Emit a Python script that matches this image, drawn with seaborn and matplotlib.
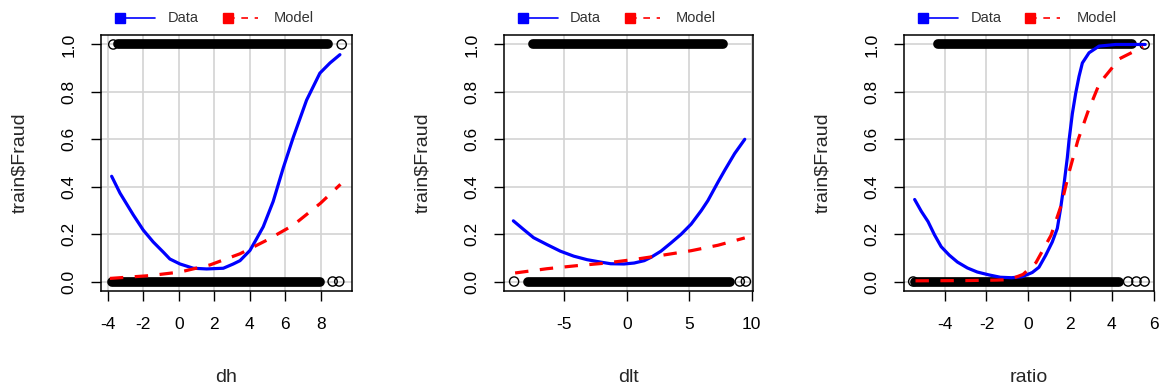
import numpy as np
import pandas as pd
import matplotlib
matplotlib.use("Agg")
import matplotlib.pyplot as plt
import seaborn as sns

sns.set_theme(style="white")
plt.rcParams['font.family'] = ['Liberation Sans', 'DejaVu Sans']
plt.rcParams['axes.unicode_minus'] = False

# ---------------- data ----------------
variables = ["dh", "dlt", "ratio"]
y_label = "train$Fraud"
legend_labels = ["Data", "Model"]

# dh panel
dh_data_x = [-3.79, -3.32, -2.57, -2.01, -1.45, -0.88, -0.51, 0.06, 0.81, 1.56, 2.5, 3.06, 3.44, 4.0, 4.38, 4.75,
             5.31, 5.88, 6.44, 7.19, 7.94, 8.51, 9.07]
dh_data_y = [0.444, 0.373, 0.281, 0.217, 0.167, 0.124, 0.095, 0.074, 0.056, 0.053, 0.056, 0.074, 0.088, 0.131, 0.181,
             0.231, 0.338, 0.48, 0.608, 0.765, 0.879, 0.922, 0.957]
dh_model_x = [-3.89, -1.63, 0.06, 1.75, 3.44, 4.94, 6.45, 7.97, 9.1]
dh_model_y = [0.013, 0.025, 0.04, 0.07, 0.117, 0.174, 0.238, 0.33, 0.41]
dh_pos_band = [-3.42, 8.41]
dh_pos_pts = [-3.7, 9.17]
dh_neg_band = [-3.75, 7.95]
dh_neg_pts = [8.66, 9.03]

# dlt panel
dlt_data_x = [-9.09, -8.28, -7.47, -6.4, -5.32, -4.25, -3.17, -2.1, -1.29, -0.22, 0.59, 1.4, 1.94, 2.74, 3.55,
              4.35, 5.16, 5.97, 6.5, 7.31, 7.85, 8.65, 9.46]
dlt_data_y = [0.256, 0.22, 0.185, 0.156, 0.128, 0.107, 0.092, 0.082, 0.075, 0.074, 0.078, 0.088, 0.102, 0.128, 0.163,
              0.199, 0.242, 0.299, 0.341, 0.419, 0.469, 0.54, 0.60]
dlt_model_x = [-8.95, -6.4, -3.98, -1.83, 0.59, 2.74, 5.16, 7.31, 9.46]
dlt_model_y = [0.036, 0.054, 0.067, 0.077, 0.093, 0.11, 0.13, 0.153, 0.184]
dlt_pos_band = [-7.5, 7.74]
dlt_pos_pts = []
dlt_neg_band = [-7.94, 8.3]
dlt_neg_pts = [-9.03, 9.06, 9.55]

# ratio panel
ratio_data_x = [-5.44, -5.12, -4.8, -4.49, -4.17, -3.78, -3.39, -2.91, -2.44, -1.89, -1.34, -0.8, -0.3, 0.19, 0.51,
                0.83, 1.15, 1.39, 1.55, 1.71, 1.87, 1.95, 2.11, 2.27, 2.43, 2.59, 2.91, 3.39, 4.19, 5.6]
ratio_data_y = [0.346, 0.296, 0.253, 0.197, 0.147, 0.111, 0.082, 0.057, 0.04, 0.028, 0.018, 0.016, 0.02, 0.038, 0.06,
                0.11, 0.167, 0.224, 0.309, 0.409, 0.523, 0.594, 0.708, 0.794, 0.865, 0.922, 0.965, 0.993, 1.0, 1.0]
ratio_model_x = [-5.4, -3.0, -1.5, -0.91, -0.25, 0.37, 1.09, 1.57, 1.97, 2.37, 2.85, 3.41, 4.37, 5.5]
ratio_model_y = [0.003, 0.004, 0.006, 0.008, 0.03, 0.08, 0.195, 0.32, 0.466, 0.594, 0.715, 0.836, 0.94, 0.99]
ratio_pos_band = [-4.33, 4.95]
ratio_pos_pts = [5.57]
ratio_neg_band = [-5.4, 4.33]
ratio_neg_pts = [-5.51, 4.78, 5.18, 5.57]

y_ticks = [0.0, 0.2, 0.4, 0.6, 0.8, 1.0]
y_tick_labels = ["0.0", "0.2", "0.4", "0.6", "0.8", "1.0"]
x_ticks = {"dh": [-4, -2, 0, 2, 4, 6, 8],
           "dlt": [-5, 0, 5, 10],
           "ratio": [-4, -2, 0, 2, 4, 6]}
x_limits = {"dh": (-4.39, 9.75), "dlt": (-9.84, 10.12), "ratio": (-5.95, 6.02)}

panels = {
    "dh": (dh_data_x, dh_data_y, dh_model_x, dh_model_y, dh_pos_band, dh_pos_pts, dh_neg_band, dh_neg_pts),
    "dlt": (dlt_data_x, dlt_data_y, dlt_model_x, dlt_model_y, dlt_pos_band, dlt_pos_pts, dlt_neg_band, dlt_neg_pts),
    "ratio": (ratio_data_x, ratio_data_y, ratio_model_x, ratio_model_y, ratio_pos_band, ratio_pos_pts, ratio_neg_band, ratio_neg_pts),
}

# ---------------- figure ----------------
fig = plt.figure(figsize=(11.65, 3.91), dpi=100)
fig.patch.set_facecolor("white")
lefts = [101 / 1165, 504 / 1165, 904 / 1165]
widths = [251 / 1165, 249 / 1165, 250 / 1165]
bottom = 1 - 291 / 391
height = 256 / 391

for i, var in enumerate(variables):
    ax = fig.add_axes([lefts[i], bottom, widths[i], height])
    ax.set_facecolor("white")
    dx, dy, mx, my, pband, ppts, nband, npts = panels[var]

    ax.set_xlim(*x_limits[var])
    ax.set_ylim(-0.04, 1.04)
    ax.set_xticks(x_ticks[var])
    ax.set_yticks(y_ticks)
    ax.set_yticklabels(y_tick_labels, rotation=90, va="center")
    ax.grid(True, color="#d3d3d3", lw=1.2)
    ax.set_axisbelow(True)

    # observations (0/1)
    ax.plot(pband, [1.0] * len(pband), color="black", lw=7.0, solid_capstyle="round", zorder=3)
    ax.plot(nband, [0.0] * len(nband), color="black", lw=7.0, solid_capstyle="round", zorder=3)
    if ppts:
        ax.scatter(ppts, [1.0] * len(ppts), s=44, facecolors="none", edgecolors="black", linewidths=1.0, zorder=3)
    if npts:
        ax.scatter(npts, [0.0] * len(npts), s=44, facecolors="none", edgecolors="black", linewidths=1.0, zorder=3)

    # curves
    sns.lineplot(x=dx, y=dy, ax=ax, color="blue", lw=2.3, sort=False, estimator=None, zorder=4)
    sns.lineplot(x=mx, y=my, ax=ax, color="red", lw=2.3, sort=False, estimator=None, zorder=4)
    ax.lines[-1].set_dashes((4.2, 3.6))

    for sp in ax.spines.values():
        sp.set_visible(True)
        sp.set_color("black")
        sp.set_linewidth(1.1)
    ax.tick_params(axis="both", direction="out", length=7.5, width=1.0, colors="black",
                   labelsize=12.5, left=True, bottom=True, pad=11)
    ax.tick_params(axis="y", pad=10)

    ax.set_xlabel(var, fontsize=14, va="center")
    ax.xaxis.set_label_coords(0.5, -0.336)
    ax.set_ylabel(y_label, fontsize=14, va="center")
    ax.yaxis.set_label_coords(-0.325, 0.5)

    # legend (R style, horizontal at top)
    ly = 1.066
    ax.plot([0.077, 0.217], [ly, ly], transform=ax.transAxes, color="blue", lw=1.2, clip_on=False)
    ax.plot([0.077], [ly], transform=ax.transAxes, color="blue", marker="s", ms=7.5, clip_on=False, lw=0)
    ax.text(0.265, ly, legend_labels[0], transform=ax.transAxes, fontsize=10.5, va="center", ha="left", color="#333333")
    ax.plot([0.505, 0.625], [ly, ly], transform=ax.transAxes, color="red", lw=1.2, clip_on=False, dashes=(4, 4))
    ax.plot([0.505], [ly], transform=ax.transAxes, color="red", marker="s", ms=7.5, clip_on=False, lw=0)
    ax.text(0.69, ly, legend_labels[1], transform=ax.transAxes, fontsize=10.5, va="center", ha="left", color="#333333")

fig.savefig("out.png", dpi=100, facecolor="white")
